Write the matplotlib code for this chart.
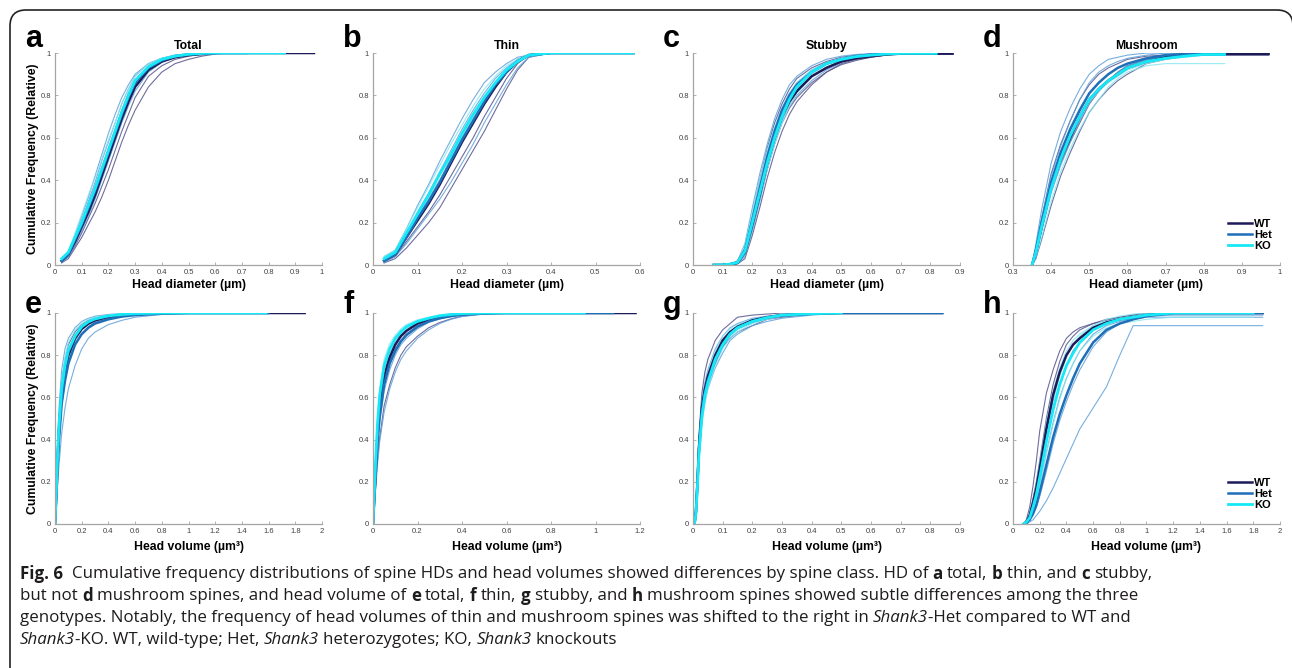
import matplotlib
matplotlib.use('Agg')
import matplotlib.pyplot as plt
from matplotlib.patches import FancyBboxPatch
from matplotlib.transforms import IdentityTransform
from matplotlib.ticker import FuncFormatter, MultipleLocator

# ---- data: cumulative frequency curves ----
# each genotype list: first row = group mean (thick), the rest = single animals (thin)
# *_END = x where each genotype's curves stop (WT, Het, KO)

A_X = [0.025, 0.05, 0.075, 0.1, 0.125, 0.15, 0.175, 0.2, 0.225, 0.25, 0.275, 0.3, 0.35, 0.4, 0.45, 0.5, 0.55, 0.6, 0.65]
A_WT = [[0.02, 0.05, 0.11, 0.18, 0.25, 0.33, 0.42, 0.51, 0.60, 0.69, 0.77, 0.84, 0.92, 0.96, 0.98, 0.99, 0.995, 1.0, 1.0],
        [0.01, 0.03, 0.08, 0.13, 0.19, 0.25, 0.32, 0.40, 0.49, 0.58, 0.66, 0.73, 0.84, 0.91, 0.95, 0.97, 0.985, 0.995, 1.0],
        [0.02, 0.05, 0.12, 0.20, 0.28, 0.37, 0.46, 0.55, 0.64, 0.73, 0.81, 0.87, 0.94, 0.97, 0.985, 0.995, 1.0, 1.0, 1.0],
        [0.015, 0.04, 0.09, 0.15, 0.22, 0.29, 0.37, 0.45, 0.54, 0.63, 0.71, 0.79, 0.89, 0.94, 0.97, 0.985, 0.995, 1.0, 1.0]]
A_HET = [[0.02, 0.05, 0.12, 0.19, 0.27, 0.35, 0.44, 0.53, 0.62, 0.71, 0.79, 0.86, 0.93, 0.965, 0.985, 0.993, 0.998, 1.0, 1.0],
         [0.03, 0.06, 0.14, 0.23, 0.32, 0.42, 0.52, 0.62, 0.71, 0.79, 0.85, 0.90, 0.95, 0.975, 0.99, 0.995, 1.0, 1.0, 1.0],
         [0.01, 0.04, 0.10, 0.16, 0.23, 0.31, 0.40, 0.49, 0.58, 0.67, 0.75, 0.82, 0.91, 0.955, 0.98, 0.99, 0.997, 1.0, 1.0],
         [0.02, 0.05, 0.13, 0.21, 0.30, 0.39, 0.49, 0.58, 0.67, 0.76, 0.83, 0.89, 0.95, 0.975, 0.99, 0.996, 1.0, 1.0, 1.0]]
A_KO = [[0.03, 0.06, 0.13, 0.20, 0.28, 0.36, 0.45, 0.54, 0.63, 0.72, 0.80, 0.87, 0.935, 0.97, 0.985, 0.994, 0.998, 1.0, 1.0],
        [0.03, 0.06, 0.15, 0.24, 0.33, 0.41, 0.50, 0.59, 0.67, 0.76, 0.83, 0.89, 0.95, 0.975, 0.99, 0.996, 1.0, 1.0, 1.0],
        [0.02, 0.05, 0.11, 0.18, 0.26, 0.34, 0.43, 0.52, 0.61, 0.70, 0.78, 0.85, 0.93, 0.965, 0.985, 0.993, 0.998, 1.0, 1.0],
        [0.025, 0.055, 0.12, 0.19, 0.27, 0.35, 0.44, 0.53, 0.62, 0.71, 0.79, 0.86, 0.94, 0.97, 0.985, 0.995, 1.0, 1.0, 1.0]]
A_END = [0.97, 0.72, 0.86]

B_X = [0.025, 0.05, 0.075, 0.1, 0.125, 0.15, 0.175, 0.2, 0.225, 0.25, 0.275, 0.3, 0.325, 0.35, 0.4]
B_WT = [[0.02, 0.05, 0.13, 0.21, 0.29, 0.38, 0.48, 0.58, 0.67, 0.76, 0.84, 0.91, 0.96, 0.99, 1.0],
        [0.01, 0.03, 0.08, 0.14, 0.20, 0.27, 0.36, 0.45, 0.54, 0.63, 0.73, 0.83, 0.92, 0.98, 1.0],
        [0.02, 0.04, 0.11, 0.18, 0.25, 0.33, 0.42, 0.51, 0.60, 0.70, 0.79, 0.88, 0.95, 0.99, 1.0],
        [0.03, 0.06, 0.14, 0.23, 0.31, 0.40, 0.50, 0.60, 0.69, 0.78, 0.86, 0.92, 0.97, 0.99, 1.0]]
B_HET = [[0.02, 0.05, 0.13, 0.22, 0.30, 0.39, 0.49, 0.59, 0.68, 0.77, 0.85, 0.91, 0.96, 0.99, 1.0],
         [0.04, 0.07, 0.17, 0.28, 0.38, 0.49, 0.59, 0.69, 0.78, 0.86, 0.91, 0.95, 0.98, 0.99, 1.0],
         [0.01, 0.04, 0.10, 0.17, 0.24, 0.31, 0.39, 0.48, 0.57, 0.67, 0.76, 0.85, 0.93, 0.98, 1.0],
         [0.03, 0.06, 0.15, 0.25, 0.34, 0.44, 0.54, 0.64, 0.73, 0.81, 0.88, 0.93, 0.97, 0.99, 1.0]]
B_KO = [[0.03, 0.06, 0.15, 0.24, 0.33, 0.43, 0.52, 0.62, 0.71, 0.79, 0.86, 0.92, 0.96, 0.99, 1.0],
        [0.04, 0.07, 0.17, 0.27, 0.37, 0.47, 0.57, 0.66, 0.75, 0.83, 0.89, 0.94, 0.97, 0.99, 1.0],
        [0.02, 0.05, 0.13, 0.22, 0.31, 0.40, 0.50, 0.60, 0.69, 0.78, 0.85, 0.91, 0.96, 0.99, 1.0],
        [0.03, 0.06, 0.14, 0.23, 0.32, 0.42, 0.51, 0.61, 0.70, 0.78, 0.85, 0.92, 0.96, 0.99, 1.0]]
B_END = [0.585, 0.585, 0.585]

C_X = [0.07, 0.1, 0.125, 0.15, 0.175, 0.2, 0.225, 0.25, 0.275, 0.3, 0.325, 0.35, 0.4, 0.45, 0.5, 0.55, 0.6, 0.65, 0.7]
C_WT = [[0.0, 0.0, 0.003, 0.01, 0.06, 0.19, 0.33, 0.48, 0.60, 0.70, 0.77, 0.82, 0.89, 0.93, 0.96, 0.975, 0.985, 0.993, 0.997],
        [0.0, 0.0, 0.0, 0.005, 0.03, 0.14, 0.27, 0.41, 0.53, 0.63, 0.71, 0.77, 0.85, 0.91, 0.95, 0.97, 0.98, 0.99, 0.995],
        [0.0, 0.0, 0.005, 0.015, 0.08, 0.24, 0.40, 0.55, 0.67, 0.76, 0.83, 0.88, 0.93, 0.96, 0.98, 0.99, 0.995, 1.0, 1.0],
        [0.0, 0.0, 0.002, 0.008, 0.05, 0.17, 0.31, 0.45, 0.57, 0.67, 0.74, 0.79, 0.86, 0.91, 0.945, 0.965, 0.98, 0.99, 0.997]]
C_HET = [[0.0, 0.0, 0.004, 0.012, 0.07, 0.21, 0.36, 0.51, 0.63, 0.73, 0.80, 0.85, 0.91, 0.95, 0.97, 0.985, 0.992, 0.997, 1.0],
         [0.0, 0.002, 0.006, 0.02, 0.10, 0.27, 0.43, 0.57, 0.69, 0.78, 0.85, 0.89, 0.94, 0.97, 0.985, 0.993, 0.997, 1.0, 1.0],
         [0.0, 0.0, 0.002, 0.008, 0.04, 0.16, 0.30, 0.45, 0.58, 0.68, 0.75, 0.80, 0.87, 0.92, 0.955, 0.975, 0.985, 0.993, 0.998],
         [0.0, 0.0, 0.004, 0.012, 0.07, 0.22, 0.37, 0.52, 0.64, 0.74, 0.81, 0.86, 0.92, 0.955, 0.975, 0.99, 0.995, 1.0, 1.0]]
C_KO = [[0.0, 0.001, 0.004, 0.012, 0.065, 0.20, 0.34, 0.48, 0.60, 0.70, 0.78, 0.84, 0.91, 0.95, 0.97, 0.983, 0.99, 0.995, 0.998],
        [0.0, 0.002, 0.006, 0.015, 0.09, 0.25, 0.40, 0.54, 0.65, 0.74, 0.81, 0.86, 0.92, 0.955, 0.975, 0.985, 0.993, 0.997, 1.0],
        [0.0, 0.0, 0.002, 0.008, 0.05, 0.17, 0.31, 0.45, 0.57, 0.67, 0.75, 0.81, 0.89, 0.935, 0.96, 0.975, 0.985, 0.993, 0.997],
        [0.0, 0.001, 0.004, 0.01, 0.06, 0.19, 0.33, 0.47, 0.59, 0.69, 0.77, 0.83, 0.90, 0.945, 0.97, 0.982, 0.99, 0.996, 1.0]]
C_END = [0.875, 0.80, 0.82]

D_X = [0.35, 0.36, 0.375, 0.4, 0.425, 0.45, 0.475, 0.5, 0.525, 0.55, 0.575, 0.6, 0.65, 0.7, 0.75, 0.8]
D_WT = [[0.0, 0.06, 0.18, 0.37, 0.50, 0.60, 0.70, 0.78, 0.83, 0.87, 0.90, 0.93, 0.96, 0.98, 0.99, 0.995],
        [0.0, 0.03, 0.12, 0.28, 0.42, 0.53, 0.63, 0.72, 0.78, 0.83, 0.87, 0.90, 0.95, 0.97, 0.985, 0.99],
        [0.0, 0.08, 0.22, 0.43, 0.57, 0.68, 0.78, 0.85, 0.90, 0.93, 0.95, 0.97, 0.985, 0.99, 1.0, 1.0],
        [0.0, 0.05, 0.16, 0.35, 0.48, 0.58, 0.67, 0.76, 0.82, 0.87, 0.91, 0.94, 0.97, 0.985, 0.995, 1.0]]
D_HET = [[0.0, 0.07, 0.20, 0.39, 0.53, 0.64, 0.73, 0.81, 0.86, 0.90, 0.93, 0.95, 0.975, 0.99, 0.995, 1.0],
         [0.0, 0.10, 0.26, 0.48, 0.63, 0.74, 0.83, 0.90, 0.94, 0.97, 0.98, 0.99, 1.0, 1.0, 1.0, 1.0],
         [0.0, 0.05, 0.16, 0.34, 0.47, 0.58, 0.68, 0.76, 0.82, 0.87, 0.91, 0.94, 0.97, 0.985, 0.99, 1.0],
         [0.0, 0.08, 0.22, 0.42, 0.56, 0.68, 0.78, 0.86, 0.91, 0.94, 0.96, 0.975, 0.99, 1.0, 1.0, 1.0]]
D_KO = [[0.0, 0.06, 0.18, 0.36, 0.50, 0.61, 0.70, 0.78, 0.83, 0.87, 0.90, 0.93, 0.96, 0.975, 0.985, 0.993],
        [0.0, 0.04, 0.13, 0.30, 0.44, 0.55, 0.64, 0.72, 0.78, 0.84, 0.88, 0.91, 0.94, 0.95, 0.95, 0.95],
        [0.0, 0.07, 0.20, 0.40, 0.54, 0.65, 0.74, 0.81, 0.86, 0.90, 0.93, 0.95, 0.975, 0.985, 0.995, 1.0],
        [0.0, 0.05, 0.17, 0.36, 0.50, 0.60, 0.69, 0.77, 0.82, 0.86, 0.89, 0.92, 0.95, 0.97, 0.98, 0.99]]
D_END = [0.97, 0.74, 0.855]

E_X = [0.0, 0.01, 0.02, 0.03, 0.05, 0.075, 0.1, 0.15, 0.2, 0.25, 0.3, 0.4, 0.5, 0.6, 0.8, 1.0]
E_WT = [[0.0, 0.15, 0.32, 0.45, 0.62, 0.73, 0.80, 0.88, 0.925, 0.95, 0.965, 0.982, 0.99, 0.995, 0.999, 1.0],
        [0.0, 0.12, 0.27, 0.39, 0.56, 0.68, 0.76, 0.85, 0.90, 0.935, 0.955, 0.975, 0.987, 0.993, 0.998, 1.0],
        [0.0, 0.18, 0.37, 0.50, 0.68, 0.78, 0.85, 0.91, 0.945, 0.965, 0.977, 0.99, 0.995, 0.998, 1.0, 1.0],
        [0.0, 0.14, 0.30, 0.43, 0.60, 0.71, 0.79, 0.87, 0.92, 0.945, 0.962, 0.98, 0.99, 0.995, 0.999, 1.0]]
E_HET = [[0.0, 0.13, 0.28, 0.40, 0.57, 0.68, 0.76, 0.85, 0.90, 0.93, 0.95, 0.97, 0.983, 0.99, 0.997, 1.0],
         [0.0, 0.08, 0.19, 0.28, 0.43, 0.55, 0.64, 0.75, 0.83, 0.88, 0.91, 0.945, 0.965, 0.98, 0.993, 0.998],
         [0.0, 0.15, 0.32, 0.45, 0.62, 0.73, 0.81, 0.89, 0.93, 0.955, 0.97, 0.985, 0.992, 0.996, 0.999, 1.0],
         [0.0, 0.20, 0.40, 0.55, 0.73, 0.83, 0.88, 0.93, 0.96, 0.975, 0.985, 0.993, 0.997, 0.999, 1.0, 1.0]]
E_KO = [[0.0, 0.16, 0.34, 0.47, 0.64, 0.75, 0.82, 0.89, 0.935, 0.958, 0.972, 0.986, 0.993, 0.997, 1.0, 1.0],
        [0.0, 0.18, 0.37, 0.51, 0.68, 0.79, 0.86, 0.92, 0.95, 0.97, 0.98, 0.99, 0.996, 0.998, 1.0, 1.0],
        [0.0, 0.14, 0.30, 0.43, 0.60, 0.71, 0.79, 0.87, 0.92, 0.945, 0.962, 0.98, 0.99, 0.995, 0.999, 1.0],
        [0.0, 0.17, 0.35, 0.48, 0.65, 0.76, 0.83, 0.90, 0.94, 0.96, 0.975, 0.988, 0.994, 0.997, 1.0, 1.0]]
E_END = [1.87, 1.60, 1.58]

F_X = [0.0, 0.01, 0.02, 0.03, 0.05, 0.075, 0.1, 0.125, 0.15, 0.2, 0.25, 0.3, 0.35, 0.4, 0.5, 0.6]
F_WT = [[0.0, 0.22, 0.42, 0.55, 0.70, 0.79, 0.85, 0.89, 0.915, 0.95, 0.97, 0.982, 0.99, 0.995, 0.999, 1.0],
        [0.0, 0.15, 0.30, 0.41, 0.56, 0.66, 0.74, 0.80, 0.84, 0.89, 0.93, 0.955, 0.972, 0.985, 0.996, 1.0],
        [0.0, 0.25, 0.46, 0.60, 0.75, 0.83, 0.88, 0.915, 0.935, 0.96, 0.975, 0.987, 0.993, 0.997, 1.0, 1.0],
        [0.0, 0.20, 0.39, 0.52, 0.67, 0.77, 0.83, 0.87, 0.90, 0.94, 0.965, 0.98, 0.988, 0.994, 0.999, 1.0]]
F_HET = [[0.0, 0.20, 0.39, 0.51, 0.66, 0.76, 0.82, 0.865, 0.895, 0.935, 0.96, 0.975, 0.985, 0.992, 0.998, 1.0],
         [0.0, 0.14, 0.28, 0.39, 0.53, 0.64, 0.72, 0.78, 0.82, 0.88, 0.92, 0.95, 0.97, 0.983, 0.995, 1.0],
         [0.0, 0.24, 0.45, 0.58, 0.73, 0.82, 0.87, 0.905, 0.93, 0.955, 0.972, 0.985, 0.992, 0.996, 1.0, 1.0],
         [0.0, 0.18, 0.36, 0.48, 0.63, 0.73, 0.80, 0.85, 0.88, 0.925, 0.955, 0.972, 0.983, 0.99, 0.997, 1.0]]
F_KO = [[0.0, 0.26, 0.47, 0.61, 0.75, 0.83, 0.88, 0.91, 0.935, 0.96, 0.975, 0.987, 0.993, 0.997, 1.0, 1.0],
        [0.0, 0.28, 0.50, 0.64, 0.78, 0.855, 0.895, 0.925, 0.945, 0.968, 0.98, 0.99, 0.995, 0.998, 1.0, 1.0],
        [0.0, 0.23, 0.43, 0.57, 0.72, 0.81, 0.865, 0.90, 0.925, 0.955, 0.972, 0.985, 0.992, 0.996, 1.0, 1.0],
        [0.0, 0.25, 0.46, 0.60, 0.74, 0.82, 0.875, 0.91, 0.93, 0.958, 0.974, 0.986, 0.993, 0.997, 1.0, 1.0]]
F_END = [1.18, 1.08, 0.95]

G_X = [0.005, 0.01, 0.015, 0.02, 0.03, 0.04, 0.05, 0.075, 0.1, 0.125, 0.15, 0.2, 0.25, 0.3, 0.4, 0.5]
G_WT = [[0.0, 0.06, 0.20, 0.36, 0.55, 0.64, 0.70, 0.80, 0.87, 0.91, 0.935, 0.965, 0.98, 0.99, 0.997, 1.0],
        [0.0, 0.08, 0.25, 0.42, 0.62, 0.72, 0.78, 0.87, 0.92, 0.95, 0.98, 0.99, 0.995, 1.0, 1.0, 1.0],
        [0.0, 0.05, 0.18, 0.33, 0.51, 0.60, 0.66, 0.76, 0.84, 0.88, 0.91, 0.94, 0.97, 0.98, 0.995, 1.0],
        [0.0, 0.06, 0.20, 0.36, 0.54, 0.63, 0.69, 0.79, 0.86, 0.90, 0.93, 0.96, 0.975, 0.988, 0.996, 1.0]]
G_HET = [[0.0, 0.06, 0.19, 0.35, 0.53, 0.62, 0.68, 0.78, 0.85, 0.90, 0.93, 0.96, 0.978, 0.988, 0.996, 1.0],
         [0.0, 0.07, 0.22, 0.39, 0.58, 0.67, 0.73, 0.83, 0.89, 0.93, 0.95, 0.975, 0.985, 0.992, 0.998, 1.0],
         [0.0, 0.05, 0.17, 0.32, 0.49, 0.58, 0.64, 0.74, 0.81, 0.87, 0.90, 0.94, 0.96, 0.975, 0.99, 1.0],
         [0.0, 0.06, 0.19, 0.35, 0.53, 0.62, 0.68, 0.79, 0.86, 0.90, 0.93, 0.955, 0.975, 0.985, 0.997, 1.0]]
G_KO = [[0.0, 0.05, 0.18, 0.33, 0.51, 0.61, 0.67, 0.78, 0.85, 0.90, 0.93, 0.96, 0.978, 0.99, 0.997, 1.0],
        [0.0, 0.04, 0.15, 0.29, 0.47, 0.57, 0.64, 0.75, 0.83, 0.88, 0.91, 0.95, 0.97, 0.985, 0.995, 1.0],
        [0.0, 0.06, 0.20, 0.37, 0.56, 0.66, 0.72, 0.82, 0.89, 0.925, 0.945, 0.97, 0.983, 0.992, 0.998, 1.0],
        [0.0, 0.05, 0.18, 0.33, 0.52, 0.62, 0.68, 0.78, 0.85, 0.89, 0.92, 0.955, 0.975, 0.988, 0.996, 1.0]]
G_END = [0.84, 0.84, 0.50]

H_X = [0.08, 0.1, 0.125, 0.15, 0.175, 0.2, 0.25, 0.3, 0.35, 0.4, 0.45, 0.5, 0.6, 0.7, 0.8, 0.9, 1.0, 1.2]
H_WT = [[0.0, 0.01, 0.04, 0.10, 0.17, 0.26, 0.45, 0.61, 0.72, 0.80, 0.85, 0.88, 0.93, 0.955, 0.97, 0.98, 0.99, 1.0],
        [0.0, 0.02, 0.08, 0.18, 0.30, 0.44, 0.62, 0.73, 0.82, 0.88, 0.91, 0.93, 0.95, 0.965, 0.98, 0.99, 1.0, 1.0],
        [0.0, 0.01, 0.03, 0.08, 0.14, 0.22, 0.40, 0.55, 0.66, 0.75, 0.82, 0.86, 0.92, 0.95, 0.97, 0.985, 0.99, 1.0],
        [0.0, 0.01, 0.05, 0.12, 0.20, 0.30, 0.50, 0.66, 0.77, 0.85, 0.89, 0.92, 0.95, 0.97, 0.98, 0.99, 1.0, 1.0]]
H_HET = [[0.0, 0.005, 0.02, 0.05, 0.09, 0.15, 0.28, 0.41, 0.52, 0.61, 0.69, 0.76, 0.86, 0.92, 0.95, 0.97, 0.985, 1.0],
         [0.0, 0.0, 0.01, 0.02, 0.04, 0.06, 0.11, 0.17, 0.24, 0.31, 0.38, 0.45, 0.55, 0.65, 0.80, 0.94, 0.94, 0.94],
         [0.0, 0.01, 0.03, 0.07, 0.12, 0.19, 0.34, 0.48, 0.60, 0.69, 0.76, 0.82, 0.90, 0.94, 0.96, 0.975, 0.985, 0.99],
         [0.0, 0.005, 0.02, 0.04, 0.08, 0.13, 0.25, 0.38, 0.49, 0.58, 0.66, 0.73, 0.84, 0.91, 0.95, 0.97, 0.98, 0.98]]
H_KO = [[0.0, 0.01, 0.03, 0.08, 0.14, 0.22, 0.39, 0.54, 0.66, 0.75, 0.81, 0.86, 0.92, 0.95, 0.97, 0.98, 0.99, 1.0],
        [0.0, 0.01, 0.05, 0.11, 0.19, 0.29, 0.48, 0.63, 0.74, 0.82, 0.87, 0.90, 0.94, 0.96, 0.975, 0.985, 0.995, 1.0],
        [0.0, 0.005, 0.02, 0.06, 0.11, 0.18, 0.33, 0.47, 0.59, 0.69, 0.76, 0.82, 0.89, 0.93, 0.95, 0.96, 0.97, 0.98],
        [0.0, 0.01, 0.04, 0.09, 0.16, 0.25, 0.43, 0.58, 0.70, 0.79, 0.85, 0.89, 0.94, 0.97, 0.985, 0.995, 1.0, 1.0]]
H_END = [1.87, 1.87, 1.80]

LETTERS = ['a', 'b', 'c', 'd', 'e', 'f', 'g', 'h']
TITLES = ['Total', 'Thin', 'Stubby', 'Mushroom', '', '', '', '']
XLIMS = [(0, 1), (0, 0.6), (0, 0.9), (0.3, 1), (0, 2), (0, 1.2), (0, 0.9), (0, 2)]
XSTEPS = [0.1, 0.1, 0.1, 0.1, 0.2, 0.2, 0.1, 0.2]
GENOTYPES = ['WT', 'Het', 'KO']

PANELS = [(A_X, A_WT, A_HET, A_KO, A_END), (B_X, B_WT, B_HET, B_KO, B_END),
          (C_X, C_WT, C_HET, C_KO, C_END), (D_X, D_WT, D_HET, D_KO, D_END),
          (E_X, E_WT, E_HET, E_KO, E_END), (F_X, F_WT, F_HET, F_KO, F_END),
          (G_X, G_WT, G_HET, G_KO, G_END), (H_X, H_WT, H_HET, H_KO, H_END)]

# colours
MEAN_COL = ['#1c1b58', '#1f6fb8', '#17e8f6']
THIN_COL = ['#55548c', '#5fa0da', '#86e6f2']
MEAN_LW = [1.8, 1.8, 2.0]

CHART_FONT = ['Liberation Sans', 'DejaVu Sans']
CAP_FONT = ['Open Sans', 'DejaVu Sans']
LAB_SIZE = 8.8

W, H = 1292, 668
fig = plt.figure(figsize=(W / 100, H / 100), dpi=100)
fig.patch.set_facecolor('white')

# rounded frame (clipped by the figure edge at bottom/right)
frame = FancyBboxPatch((10, -60), 1283, H - 10 + 60, boxstyle='round,pad=0,rounding_size=16',
                       transform=IdentityTransform(), facecolor='none', edgecolor='#222222', linewidth=1.2)
fig.add_artist(frame)

ax_left = [55, 373, 693, 1013]
ax_w = 267
rows = [(53, 265), (313, 524)]
xlab_off = [20, 23]

fmt = FuncFormatter(lambda v, p: f'{v:g}')

for i, (xs, wt, het, ko, ends) in enumerate(PANELS):
    r, c = divmod(i, 4)
    top, bot = rows[r]
    ax = fig.add_axes([ax_left[c] / W, 1 - bot / H, ax_w / W, (bot - top) / H])

    groups = [wt, het, ko]
    # single animals first
    for g, curves in enumerate(groups):
        for cv in curves[1:]:
            ax.plot(list(xs) + [ends[g]], list(cv) + [cv[-1]], color=THIN_COL[g], lw=0.8, alpha=0.85)
    # group means on top
    for g, curves in enumerate(groups):
        cv = curves[0]
        ax.plot(list(xs) + [ends[g]], list(cv) + [cv[-1]], color=MEAN_COL[g], lw=MEAN_LW[g],
                label=GENOTYPES[g])

    ax.set_xlim(*XLIMS[i])
    ax.set_ylim(0, 1)
    ax.xaxis.set_major_locator(MultipleLocator(XSTEPS[i]))
    ax.yaxis.set_major_locator(MultipleLocator(0.2))
    ax.xaxis.set_major_formatter(fmt)
    ax.yaxis.set_major_formatter(fmt)
    for s in ['top', 'right']:
        ax.spines[s].set_visible(False)
    for s in ['left', 'bottom']:
        ax.spines[s].set_color('#a5a5a5')
        ax.spines[s].set_linewidth(0.9)
    ax.tick_params(direction='in', length=2.5, width=0.6, color='#a5a5a5',
                   labelsize=5.5, labelcolor='#404040', pad=3)
    for lab in ax.get_xticklabels() + ax.get_yticklabels():
        lab.set_family(CHART_FONT)

    xl = 'Head diameter (µm)' if r == 0 else 'Head volume (µm³)'
    ax.set_xlabel(xl, fontsize=LAB_SIZE, fontweight='bold', family=CHART_FONT, va='center')
    ax.xaxis.set_label_coords(0.5, -xlab_off[r] / (bot - top))
    if c == 0:
        ax.set_ylabel('Cumulative Frequency (Relative)', fontsize=LAB_SIZE, fontweight='bold',
                      family=CHART_FONT, va='center')
        ax.yaxis.set_label_coords(-22 / ax_w, 0.5)
    if TITLES[i]:
        ax.set_title(TITLES[i], fontsize=LAB_SIZE, fontweight='bold', family=CHART_FONT, pad=3)
    if c == 3:
        ax.legend(loc='lower right', bbox_to_anchor=(1.0, 0.03), frameon=False,
                  prop={'family': CHART_FONT, 'weight': 'bold', 'size': 8},
                  handlelength=2.2, handletextpad=0.2, labelspacing=0.1, borderpad=0.2)

    letter_y = 47 if r == 0 else 313
    fig.text((ax_left[c] - 30) / W, 1 - letter_y / H, LETTERS[i], fontsize=22, fontweight='bold',
             family=CHART_FONT, ha='left', va='baseline')

# ---- caption with mixed bold / italic runs ----
CAPTION = [
    [('Fig. 6', 'b'), ('  Cumulative frequency distributions of spine HDs and head volumes showed differences by spine class. HD of ', 'n'),
     ('a', 'b'), (' total, ', 'n'), ('b', 'b'), (' thin, and ', 'n'), ('c', 'b'), (' stubby,', 'n')],
    [('but not ', 'n'), ('d', 'b'), (' mushroom spines, and head volume of ', 'n'), ('e', 'b'), (' total, ', 'n'),
     ('f', 'b'), (' thin, ', 'n'), ('g', 'b'), (' stubby, and ', 'n'), ('h', 'b'),
     (' mushroom spines showed subtle differences among the three', 'n')],
    [('genotypes. Notably, the frequency of head volumes of thin and mushroom spines was shifted to the right in ', 'n'),
     ('Shank3', 'i'), ('-Het compared to WT and', 'n')],
    [('Shank3', 'i'), ('-KO. WT, wild-type; Het, ', 'n'), ('Shank3', 'i'), (' heterozygotes; KO, ', 'n'),
     ('Shank3', 'i'), (' knockouts', 'n')],
]
CAP_Y = [574, 596, 618, 640]

renderer = fig.canvas.get_renderer()


def run_text(x, y, txt, style, size):
    return fig.text(x / W, 1 - y / H, txt, fontsize=size, family=CAP_FONT, color='#1e1b1c',
                    fontweight='bold' if style == 'b' else 'normal',
                    fontstyle='italic' if style == 'i' else 'normal', va='center', ha='left')


def width_of(txt, style, size):
    t = run_text(0, 0, txt, style, size)
    w = t.get_window_extent(renderer).width
    t.remove()
    return w


def draw_line(parts, y, size, x0=20, measure=False):
    sp = width_of('n n', 'n', size) - width_of('nn', 'n', size)
    x = x0
    for txt, style in parts:
        core = txt.strip(' ')
        lead = len(txt) - len(txt.lstrip(' '))
        trail = len(txt) - len(txt.rstrip(' '))
        x += lead * sp
        if measure:
            x += width_of(core, style, size)
        else:
            t = run_text(x, y, core, style, size)
            x += t.get_window_extent(renderer).width
        x += trail * sp
    return x


# fit the first caption line to the width seen in the figure
base = 11.0
end1 = draw_line(CAPTION[0], 0, base, measure=True)
cap_size = base * (1147 - 20) / (end1 - 20)
for parts, y in zip(CAPTION, CAP_Y):
    draw_line(parts, y, cap_size)

fig.savefig('out.png', dpi=100, facecolor='white')
